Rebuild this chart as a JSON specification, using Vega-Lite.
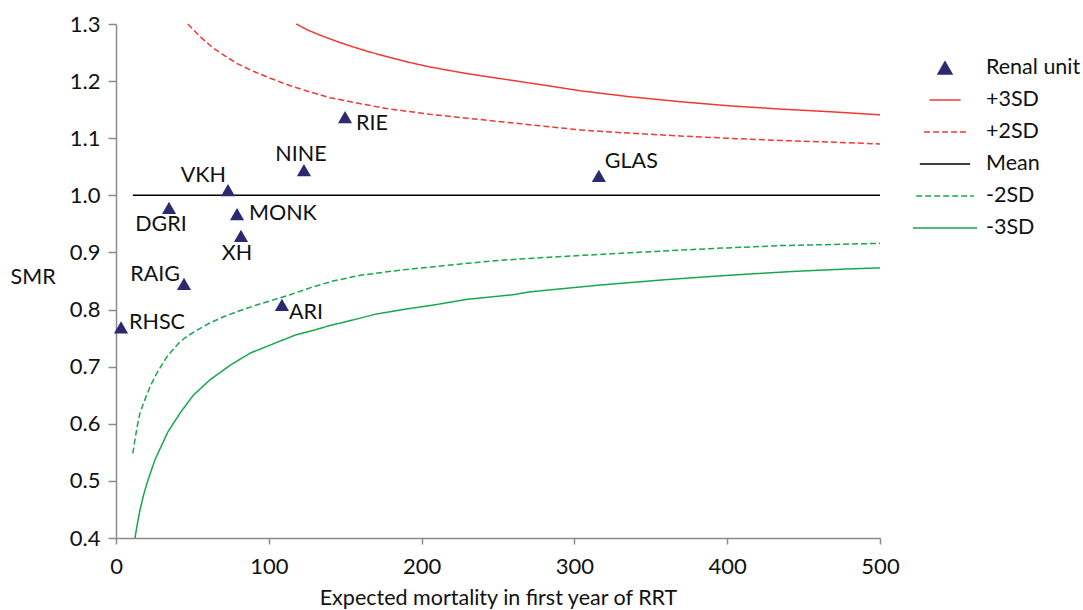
{
  "$schema": "https://vega.github.io/schema/vega-lite/v6.json",
  "width": 764,
  "height": 514,
  "autosize": {"type": "none"},
  "padding": {"left": 116, "top": 24, "right": 203, "bottom": 72},
  "config": {
    "view": {"stroke": null},
    "font": "Lato",
    "axis": {"grid": false, "domainColor": "#8a8a8a", "domainWidth": 1.5, "tickColor": "#8a8a8a", "tickWidth": 1.5, "labelFont": "Lato", "labelFontSize": 22, "labelColor": "#111", "labelFlush": false, "titleFont": "Lato", "titleFontSize": 21.5, "titleFontWeight": "normal", "titleColor": "#111"},
    "legend": {"labelFont": "Lato", "labelFontSize": 21.5, "labelColor": "#111"},
    "text": {"font": "Lato", "fontSize": 21.5, "color": "#111", "baseline": "middle"}
  },
  "datasets": {
    "units": [
      {"unit": "RHSC", "E": 3.3, "smr": 0.769, "series": "Renal unit"},
      {"unit": "RAIG", "E": 44.5, "smr": 0.845, "series": "Renal unit"},
      {"unit": "DGRI", "E": 34.7, "smr": 0.978, "series": "Renal unit"},
      {"unit": "VKH", "E": 73.3, "smr": 1.009, "series": "Renal unit"},
      {"unit": "MONK", "E": 79.2, "smr": 0.967, "series": "Renal unit"},
      {"unit": "XH", "E": 81.8, "smr": 0.929, "series": "Renal unit"},
      {"unit": "ARI", "E": 108.6, "smr": 0.808, "series": "Renal unit"},
      {"unit": "NINE", "E": 123, "smr": 1.044, "series": "Renal unit"},
      {"unit": "RIE", "E": 149.9, "smr": 1.137, "series": "Renal unit"},
      {"unit": "GLAS", "E": 316, "smr": 1.034, "series": "Renal unit"}
    ],
    "limits": [
      {"series": "+3SD", "E": 118, "v": 1.300}, {"series": "+3SD", "E": 125, "v": 1.290}, {"series": "+3SD", "E": 133, "v": 1.281}, {"series": "+3SD", "E": 145, "v": 1.269}, {"series": "+3SD", "E": 155, "v": 1.260}, {"series": "+3SD", "E": 166, "v": 1.251}, {"series": "+3SD", "E": 177, "v": 1.243}, {"series": "+3SD", "E": 190, "v": 1.234}, {"series": "+3SD", "E": 205, "v": 1.225}, {"series": "+3SD", "E": 230, "v": 1.213}, {"series": "+3SD", "E": 255, "v": 1.203}, {"series": "+3SD", "E": 280, "v": 1.193}, {"series": "+3SD", "E": 304, "v": 1.183}, {"series": "+3SD", "E": 335, "v": 1.173}, {"series": "+3SD", "E": 369, "v": 1.164}, {"series": "+3SD", "E": 400, "v": 1.157}, {"series": "+3SD", "E": 435, "v": 1.151}, {"series": "+3SD", "E": 470, "v": 1.146}, {"series": "+3SD", "E": 500, "v": 1.141},
      {"series": "+2SD", "E": 47, "v": 1.300}, {"series": "+2SD", "E": 55, "v": 1.278}, {"series": "+2SD", "E": 64, "v": 1.257}, {"series": "+2SD", "E": 72, "v": 1.243}, {"series": "+2SD", "E": 79, "v": 1.231}, {"series": "+2SD", "E": 90, "v": 1.217}, {"series": "+2SD", "E": 101, "v": 1.205}, {"series": "+2SD", "E": 114, "v": 1.192}, {"series": "+2SD", "E": 127, "v": 1.181}, {"series": "+2SD", "E": 140, "v": 1.171}, {"series": "+2SD", "E": 155, "v": 1.163}, {"series": "+2SD", "E": 177, "v": 1.152}, {"series": "+2SD", "E": 205, "v": 1.142}, {"series": "+2SD", "E": 230, "v": 1.135}, {"series": "+2SD", "E": 255, "v": 1.128}, {"series": "+2SD", "E": 280, "v": 1.121}, {"series": "+2SD", "E": 306, "v": 1.114}, {"series": "+2SD", "E": 335, "v": 1.109}, {"series": "+2SD", "E": 369, "v": 1.104}, {"series": "+2SD", "E": 400, "v": 1.100}, {"series": "+2SD", "E": 435, "v": 1.096}, {"series": "+2SD", "E": 470, "v": 1.093}, {"series": "+2SD", "E": 500, "v": 1.090},
      {"series": "Mean", "E": 11, "v": 1.0}, {"series": "Mean", "E": 500, "v": 1.0},
      {"series": "-2SD", "E": 11, "v": 0.548}, {"series": "-2SD", "E": 12.4, "v": 0.572}, {"series": "-2SD", "E": 14, "v": 0.597}, {"series": "-2SD", "E": 15.7, "v": 0.619}, {"series": "-2SD", "E": 18, "v": 0.636}, {"series": "-2SD", "E": 20, "v": 0.650}, {"series": "-2SD", "E": 23, "v": 0.669}, {"series": "-2SD", "E": 26.6, "v": 0.688}, {"series": "-2SD", "E": 30, "v": 0.703}, {"series": "-2SD", "E": 34, "v": 0.720}, {"series": "-2SD", "E": 38, "v": 0.732}, {"series": "-2SD", "E": 42, "v": 0.744}, {"series": "-2SD", "E": 47, "v": 0.754}, {"series": "-2SD", "E": 53, "v": 0.764}, {"series": "-2SD", "E": 61, "v": 0.776}, {"series": "-2SD", "E": 70, "v": 0.787}, {"series": "-2SD", "E": 80, "v": 0.797}, {"series": "-2SD", "E": 92, "v": 0.808}, {"series": "-2SD", "E": 103, "v": 0.817}, {"series": "-2SD", "E": 114, "v": 0.826}, {"series": "-2SD", "E": 127, "v": 0.838}, {"series": "-2SD", "E": 142, "v": 0.850}, {"series": "-2SD", "E": 160, "v": 0.860}, {"series": "-2SD", "E": 186, "v": 0.869}, {"series": "-2SD", "E": 208, "v": 0.875}, {"series": "-2SD", "E": 230, "v": 0.881}, {"series": "-2SD", "E": 250, "v": 0.886}, {"series": "-2SD", "E": 273, "v": 0.890}, {"series": "-2SD", "E": 306, "v": 0.895}, {"series": "-2SD", "E": 340, "v": 0.900}, {"series": "-2SD", "E": 369, "v": 0.904}, {"series": "-2SD", "E": 400, "v": 0.908}, {"series": "-2SD", "E": 435, "v": 0.912}, {"series": "-2SD", "E": 470, "v": 0.914}, {"series": "-2SD", "E": 500, "v": 0.916},
      {"series": "-3SD", "E": 12.4, "v": 0.400}, {"series": "-3SD", "E": 14, "v": 0.425}, {"series": "-3SD", "E": 15.7, "v": 0.449}, {"series": "-3SD", "E": 18, "v": 0.475}, {"series": "-3SD", "E": 21, "v": 0.502}, {"series": "-3SD", "E": 25.5, "v": 0.537}, {"series": "-3SD", "E": 30, "v": 0.563}, {"series": "-3SD", "E": 34, "v": 0.586}, {"series": "-3SD", "E": 42, "v": 0.619}, {"series": "-3SD", "E": 50.6, "v": 0.650}, {"series": "-3SD", "E": 61.5, "v": 0.677}, {"series": "-3SD", "E": 75, "v": 0.703}, {"series": "-3SD", "E": 88, "v": 0.724}, {"series": "-3SD", "E": 101, "v": 0.738}, {"series": "-3SD", "E": 118, "v": 0.756}, {"series": "-3SD", "E": 127, "v": 0.762}, {"series": "-3SD", "E": 140, "v": 0.772}, {"series": "-3SD", "E": 157, "v": 0.783}, {"series": "-3SD", "E": 170, "v": 0.792}, {"series": "-3SD", "E": 190, "v": 0.801}, {"series": "-3SD", "E": 208, "v": 0.808}, {"series": "-3SD", "E": 230, "v": 0.818}, {"series": "-3SD", "E": 260, "v": 0.826}, {"series": "-3SD", "E": 271, "v": 0.831}, {"series": "-3SD", "E": 290, "v": 0.836}, {"series": "-3SD", "E": 317, "v": 0.843}, {"series": "-3SD", "E": 340, "v": 0.848}, {"series": "-3SD", "E": 363, "v": 0.853}, {"series": "-3SD", "E": 390, "v": 0.858}, {"series": "-3SD", "E": 413, "v": 0.862}, {"series": "-3SD", "E": 445, "v": 0.867}, {"series": "-3SD", "E": 478, "v": 0.871}, {"series": "-3SD", "E": 500, "v": 0.873}
    ]
  },
  "encoding": {
    "x": {"type": "quantitative", "scale": {"domain": [0, 500], "nice": false}, "axis": {"values": [0, 100, 200, 300, 400, 500], "title": "Expected mortality in first year of RRT", "tickSize": 6, "labelPadding": 12, "titleY": 66, "titleBaseline": "alphabetic"}},
    "y": {"type": "quantitative", "scale": {"domain": [0.4, 1.3], "nice": false, "zero": false}, "axis": {"values": [0.4, 0.5, 0.6, 0.7, 0.8, 0.9, 1.0, 1.1, 1.2, 1.3], "format": ".1f", "title": "SMR", "tickSize": 8, "labelPadding": 8, "titleAngle": 0, "titleAlign": "left", "titleBaseline": "middle", "titleX": -106, "titleY": 253}}
  },
  "layer": [
    {
      "data": {"name": "limits"},
      "mark": {"type": "line", "strokeWidth": 1.5},
      "encoding": {
        "x": {"field": "E"},
        "y": {"field": "v"},
        "stroke": {"field": "series", "type": "nominal", "scale": {"domain": ["Renal unit", "+3SD", "+2SD", "Mean", "-2SD", "-3SD"], "range": ["#2c2a6e", "#ee3a33", "#ee3a33", "#000000", "#16a84c", "#16a84c"]}, "legend": {"title": null, "orient": "none", "legendX": 796, "legendY": 33, "padding": 0, "clipHeight": 22, "rowPadding": 10, "labelOffset": 8, "symbolStrokeWidth": 1.5}},
        "strokeDash": {"field": "series", "type": "nominal", "scale": {"domain": ["Renal unit", "+3SD", "+2SD", "Mean", "-2SD", "-3SD"], "range": [[1, 0], [1, 0], [6, 3], [1, 0], [6, 3], [1, 0]]}, "legend": {"title": null, "orient": "none", "legendX": 796, "legendY": 33, "padding": 0, "clipHeight": 22, "rowPadding": 10, "labelOffset": 8, "symbolStrokeWidth": 1.5}}
      }
    },
    {
      "data": {"name": "units"},
      "mark": {"type": "point", "filled": true, "opacity": 1},
      "encoding": {
        "x": {"field": "E"},
        "y": {"field": "smr"},
        "fill": {"field": "series", "type": "nominal", "scale": {"domain": ["Renal unit", "+3SD", "+2SD", "Mean", "-2SD", "-3SD"], "range": ["#2c2a6e", "#ee3a33", "#ee3a33", "#000000", "#16a84c", "#16a84c"]}, "legend": {"title": null, "orient": "none", "legendX": 796, "legendY": 33, "padding": 0, "clipHeight": 22, "rowPadding": 10, "labelOffset": 8, "symbolStrokeWidth": 1.5}},
        "shape": {"field": "series", "type": "nominal", "scale": {"domain": ["Renal unit", "+3SD", "+2SD", "Mean", "-2SD", "-3SD"], "range": ["triangle-up", "stroke", "stroke", "stroke", "stroke", "stroke"]}, "legend": {"title": null, "orient": "none", "legendX": 796, "legendY": 33, "padding": 0, "clipHeight": 22, "rowPadding": 10, "labelOffset": 8, "symbolStrokeWidth": 1.5}},
        "size": {"field": "series", "type": "nominal", "scale": {"domain": ["Renal unit", "+3SD", "+2SD", "Mean", "-2SD", "-3SD"], "range": [200, 4096, 4096, 4096, 4096, 4096]}, "legend": {"title": null, "orient": "none", "legendX": 796, "legendY": 33, "padding": 0, "clipHeight": 22, "rowPadding": 10, "labelOffset": 8, "symbolStrokeWidth": 1.5}}
      }
    },
    {"data": {"name": "units"}, "transform": [{"filter": "datum.unit == 'RHSC'"}], "mark": {"type": "text", "align": "left", "dx": 8, "dy": -4}, "encoding": {"x": {"field": "E"}, "y": {"field": "smr"}, "text": {"field": "unit"}}},
    {"data": {"name": "units"}, "transform": [{"filter": "datum.unit == 'RAIG'"}], "mark": {"type": "text", "align": "right", "dx": -4, "dy": -9}, "encoding": {"x": {"field": "E"}, "y": {"field": "smr"}, "text": {"field": "unit"}}},
    {"data": {"name": "units"}, "transform": [{"filter": "datum.unit == 'DGRI'"}], "mark": {"type": "text", "align": "center", "dx": -8, "dy": 17}, "encoding": {"x": {"field": "E"}, "y": {"field": "smr"}, "text": {"field": "unit"}}},
    {"data": {"name": "units"}, "transform": [{"filter": "datum.unit == 'VKH'"}], "mark": {"type": "text", "align": "right", "dx": -2, "dy": -14}, "encoding": {"x": {"field": "E"}, "y": {"field": "smr"}, "text": {"field": "unit"}}},
    {"data": {"name": "units"}, "transform": [{"filter": "datum.unit == 'MONK'"}], "mark": {"type": "text", "align": "left", "dx": 12, "dy": 0}, "encoding": {"x": {"field": "E"}, "y": {"field": "smr"}, "text": {"field": "unit"}}},
    {"data": {"name": "units"}, "transform": [{"filter": "datum.unit == 'XH'"}], "mark": {"type": "text", "align": "center", "dx": -4, "dy": 18}, "encoding": {"x": {"field": "E"}, "y": {"field": "smr"}, "text": {"field": "unit"}}},
    {"data": {"name": "units"}, "transform": [{"filter": "datum.unit == 'ARI'"}], "mark": {"type": "text", "align": "left", "dx": 7, "dy": 8}, "encoding": {"x": {"field": "E"}, "y": {"field": "smr"}, "text": {"field": "unit"}}},
    {"data": {"name": "units"}, "transform": [{"filter": "datum.unit == 'NINE'"}], "mark": {"type": "text", "align": "center", "dx": -3, "dy": -15}, "encoding": {"x": {"field": "E"}, "y": {"field": "smr"}, "text": {"field": "unit"}}},
    {"data": {"name": "units"}, "transform": [{"filter": "datum.unit == 'RIE'"}], "mark": {"type": "text", "align": "left", "dx": 11, "dy": 7}, "encoding": {"x": {"field": "E"}, "y": {"field": "smr"}, "text": {"field": "unit"}}},
    {"data": {"name": "units"}, "transform": [{"filter": "datum.unit == 'GLAS'"}], "mark": {"type": "text", "align": "left", "dx": 6, "dy": -14}, "encoding": {"x": {"field": "E"}, "y": {"field": "smr"}, "text": {"field": "unit"}}}
  ]
}
